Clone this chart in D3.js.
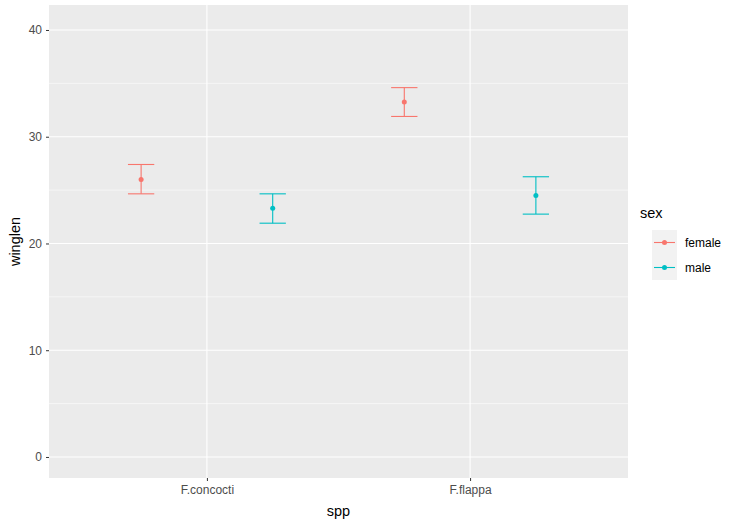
<!DOCTYPE html>
<html lang="en">
<head>
<meta charset="UTF-8"/>
<title>winglen by spp and sex</title>
<script src="https://d3js.org/d3.v7.min.js"></script>
<style>
  body { margin: 0; background: #fff; }
  text { font-family: Arial, "Liberation Sans", sans-serif; }
</style>
</head>
<body>
<script>
    // Data
    var species = ["F.concocti", "F.flappa"];
    var sexes = ["female", "male"];
    var means = [[26.0, 23.3], [33.25, 24.5]];
    var lower = [[24.65, 21.9], [31.9, 22.75]];
    var upper = [[27.4, 24.65], [34.6, 26.25]];
    var yTicks = [0, 10, 20, 30, 40];
    var yMinor = [5, 15, 25, 35];
    var colours = ["#F8766D", "#00BFC4"];

    var w = 739, h = 527;
    var panel = { left: 49, top: 5, right: 628, bottom: 478 };

    var rows = [];
    species.forEach(function (s, i) {
        sexes.forEach(function (g, j) {
            rows.push({ spp: s, sex: g, mean: means[i][j], lo: lower[i][j], hi: upper[i][j] });
        });
    });

    var svg = d3.select("body").append("svg")
        .attr("width", w)
        .attr("height", h);

    // Scales
    var xScale = d3.scalePoint()
        .domain(species)
        .range([panel.left, panel.right])
        .padding(0.6);
    var step = xScale.step();

    var dodge = d3.scaleBand()
        .domain(sexes)
        .range([-step / 2, step / 2]);

    var yScale = d3.scaleLinear()
        .domain([-1.97, 42.34])
        .range([panel.bottom, panel.top]);

    var colour = d3.scaleOrdinal().domain(sexes).range(colours);

    // Panel background and grid
    svg.append("rect")
        .attr("x", panel.left).attr("y", panel.top)
        .attr("width", panel.right - panel.left)
        .attr("height", panel.bottom - panel.top)
        .attr("fill", "#EBEBEB");

    svg.selectAll("line.minor").data(yMinor).enter().append("line")
        .attr("x1", panel.left).attr("x2", panel.right)
        .attr("y1", d => yScale(d)).attr("y2", d => yScale(d))
        .attr("stroke", "#fff").attr("stroke-width", 0.55);

    svg.selectAll("line.major").data(yTicks).enter().append("line")
        .attr("x1", panel.left).attr("x2", panel.right)
        .attr("y1", d => yScale(d)).attr("y2", d => yScale(d))
        .attr("stroke", "#fff").attr("stroke-width", 1.1);

    svg.selectAll("line.vmajor").data(species).enter().append("line")
        .attr("x1", d => xScale(d)).attr("x2", d => xScale(d))
        .attr("y1", panel.top).attr("y2", panel.bottom)
        .attr("stroke", "#fff").attr("stroke-width", 1.1);

    // Axes
    var xAxis = d3.axisBottom(xScale).tickSize(3).tickPadding(4);
    var yAxis = d3.axisLeft(yScale).tickValues(yTicks).tickSize(3).tickPadding(4);

    var gx = svg.append("g")
        .attr("transform", `translate(0,${panel.bottom})`)
        .call(xAxis);
    var gy = svg.append("g")
        .attr("transform", `translate(${panel.left},0)`)
        .call(yAxis);
    [gx, gy].forEach(function (g) {
        g.select(".domain").remove();
        g.selectAll(".tick line").attr("stroke", "#333333");
        g.selectAll(".tick text").attr("fill", "#4D4D4D")
            .style("font-size", "12px");
    });

    svg.append("text")
        .attr("x", (panel.left + panel.right) / 2).attr("y", 516)
        .attr("text-anchor", "middle").style("font-size", "14.5px")
        .text("spp");
    svg.append("text")
        .attr("transform", `translate(20,${(panel.top + panel.bottom) / 2}) rotate(-90)`)
        .attr("text-anchor", "middle").style("font-size", "14.5px")
        .text("winglen");

    // Error bars and points
    var cap = step * 0.05;
    var cx = d => xScale(d.spp) + dodge(d.sex) + dodge.bandwidth() / 2;
    var bars = svg.selectAll("g.bar").data(rows).enter().append("g")
        .attr("stroke", d => colour(d.sex))
        .attr("fill", d => colour(d.sex));
    bars.append("line")
        .attr("x1", cx).attr("x2", cx)
        .attr("y1", d => yScale(d.lo)).attr("y2", d => yScale(d.hi))
        .attr("stroke-width", 1.1);
    bars.append("line")
        .attr("x1", d => cx(d) - cap).attr("x2", d => cx(d) + cap)
        .attr("y1", d => yScale(d.hi)).attr("y2", d => yScale(d.hi))
        .attr("stroke-width", 1.1);
    bars.append("line")
        .attr("x1", d => cx(d) - cap).attr("x2", d => cx(d) + cap)
        .attr("y1", d => yScale(d.lo)).attr("y2", d => yScale(d.lo))
        .attr("stroke-width", 1.1);
    bars.append("circle")
        .attr("cx", cx).attr("cy", d => yScale(d.mean))
        .attr("r", 2.5).attr("stroke", "none");

    // Legend
    var legend = svg.append("g").attr("transform", "translate(640,0)");
    legend.append("text")
        .attr("x", 0).attr("y", 218)
        .style("font-size", "14.5px")
        .text("sex");
    var keys = legend.selectAll("g.key").data(sexes).enter().append("g")
        .attr("transform", (d, i) => `translate(12,${230 + i * 25})`);
    keys.append("rect")
        .attr("width", 25).attr("height", 25)
        .attr("fill", "#F2F2F2");
    keys.append("line")
        .attr("x1", 2).attr("x2", 23).attr("y1", 12.5).attr("y2", 12.5)
        .attr("stroke", d => colour(d)).attr("stroke-width", 1.1);
    keys.append("circle")
        .attr("cx", 12.5).attr("cy", 12.5).attr("r", 2.5)
        .attr("fill", d => colour(d));
    keys.append("text")
        .attr("x", 33).attr("y", 17)
        .style("font-size", "12px")
        .text(d => d);
</script>
</body>
</html>
